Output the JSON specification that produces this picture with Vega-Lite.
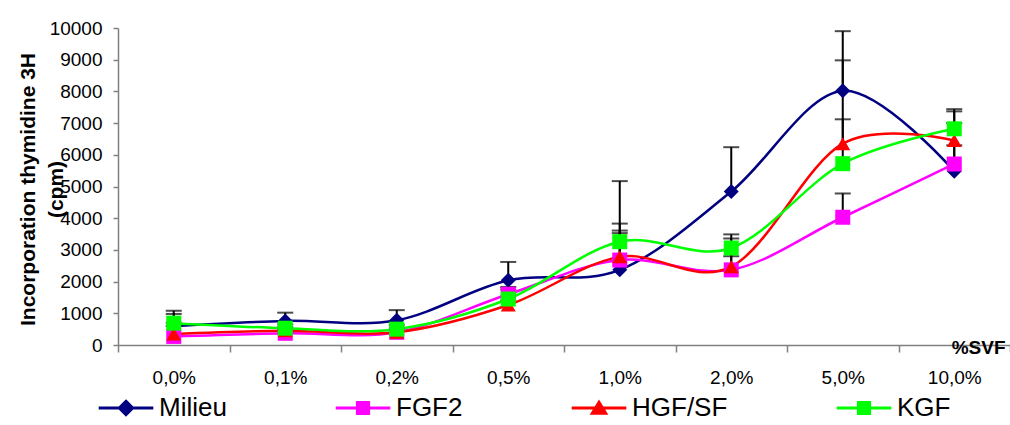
{
  "$schema": "https://vega.github.io/schema/vega-lite/v6.json",
  "width": 892,
  "height": 317,
  "autosize": "none",
  "padding": {"left": 118, "top": 28, "right": 0, "bottom": 80},
  "background": "white",
  "config": {
    "font": "Liberation Sans",
    "view": {"stroke": null},
    "axis": {"grid": false}
  },
  "data": {
    "values": [
      {"series": "Milieu", "svf": "0,0%", "value": 600, "upper": 1080},
      {"series": "Milieu", "svf": "0,1%", "value": 760, "upper": 1020},
      {"series": "Milieu", "svf": "0,2%", "value": 780, "upper": 1100},
      {"series": "Milieu", "svf": "0,5%", "value": 2040, "upper": 2620},
      {"series": "Milieu", "svf": "1,0%", "value": 2370, "upper": 5170},
      {"series": "Milieu", "svf": "2,0%", "value": 4840, "upper": 6240},
      {"series": "Milieu", "svf": "5,0%", "value": 8020, "upper": 9900},
      {"series": "Milieu", "svf": "10,0%", "value": 5480, "upper": 7440},
      {"series": "FGF2", "svf": "0,0%", "value": 270, "upper": 600},
      {"series": "FGF2", "svf": "0,1%", "value": 370, "upper": 500},
      {"series": "FGF2", "svf": "0,2%", "value": 400, "upper": 520},
      {"series": "FGF2", "svf": "0,5%", "value": 1600, "upper": 1830},
      {"series": "FGF2", "svf": "1,0%", "value": 2680, "upper": 3530},
      {"series": "FGF2", "svf": "2,0%", "value": 2370, "upper": 2800},
      {"series": "FGF2", "svf": "5,0%", "value": 4030, "upper": 4780},
      {"series": "FGF2", "svf": "10,0%", "value": 5710, "upper": 6300},
      {"series": "HGF/SF", "svf": "0,0%", "value": 350, "upper": 700},
      {"series": "HGF/SF", "svf": "0,1%", "value": 450, "upper": 560},
      {"series": "HGF/SF", "svf": "0,2%", "value": 400, "upper": 480},
      {"series": "HGF/SF", "svf": "0,5%", "value": 1260, "upper": 1400},
      {"series": "HGF/SF", "svf": "1,0%", "value": 2780, "upper": 3610},
      {"series": "HGF/SF", "svf": "2,0%", "value": 2470, "upper": 3360},
      {"series": "HGF/SF", "svf": "5,0%", "value": 6350, "upper": 8980},
      {"series": "HGF/SF", "svf": "10,0%", "value": 6450, "upper": 7000},
      {"series": "KGF", "svf": "0,0%", "value": 690, "upper": 980},
      {"series": "KGF", "svf": "0,1%", "value": 530, "upper": 650},
      {"series": "KGF", "svf": "0,2%", "value": 500, "upper": 640},
      {"series": "KGF", "svf": "0,5%", "value": 1450, "upper": 1750},
      {"series": "KGF", "svf": "1,0%", "value": 3260, "upper": 3830},
      {"series": "KGF", "svf": "2,0%", "value": 3060, "upper": 3490},
      {"series": "KGF", "svf": "5,0%", "value": 5720, "upper": 7120},
      {"series": "KGF", "svf": "10,0%", "value": 6820, "upper": 7370}
    ]
  },
  "encoding": {
    "x": {
      "field": "svf",
      "type": "ordinal",
      "sort": ["0,0%", "0,1%", "0,2%", "0,5%", "1,0%", "2,0%", "5,0%", "10,0%"],
      "scale": {"type": "band", "paddingInner": 0, "paddingOuter": 0},
      "bandPosition": 0.5,
      "axis": {
        "title": "%SVF",
        "titleFontSize": 19,
        "titleFontWeight": "bold",
        "titleColor": "black",
        "titleAlign": "right",
        "titleBaseline": "alphabetic",
        "titleX": 887,
        "titleY": 8,
        "labelFontSize": 19,
        "labelColor": "black",
        "labelAngle": 0,
        "labelPadding": 16,
        "tickSize": 7,
        "tickBand": "extent",
        "tickColor": "#808080",
        "tickWidth": 1.5,
        "domainColor": "#808080",
        "domainWidth": 1.5
      }
    },
    "y": {
      "field": "value",
      "type": "quantitative",
      "scale": {"domain": [0, 10000], "nice": false},
      "axis": {
        "title": ["Incorporation thymidine 3H", "(cpm)"],
        "values": [0, 1000, 2000, 3000, 4000, 5000, 6000, 7000, 8000, 9000, 10000],
        "format": "d",
        "tickCount": 11,
        "labelOverlap": false,
        "labelSeparation": 0,
        "labelBound": false,
        "labelFontSize": 19,
        "labelColor": "black",
        "labelPadding": 11,
        "tickSize": 5,
        "tickColor": "#808080",
        "tickWidth": 1.5,
        "domainColor": "#808080",
        "domainWidth": 1.5,
        "titleFontSize": 21,
        "titleFontWeight": "bold",
        "titleColor": "black",
        "titleAngle": -90,
        "titleAlign": "center",
        "titleBaseline": "alphabetic",
        "titleX": -84,
        "titleY": 161,
        "titleLineHeight": 28
      }
    }
  },
  "layer": [
    {
      "mark": {"type": "rule", "color": "black", "strokeWidth": 2},
      "encoding": {
        "y2": {"field": "upper"}
      }
    },
    {
      "mark": {"type": "tick", "orient": "horizontal", "color": "black", "size": 16, "thickness": 2},
      "encoding": {
        "y": {"field": "upper", "type": "quantitative"}
      }
    },
    {
      "mark": {"type": "line", "interpolate": "cardinal", "strokeWidth": 2.5},
      "encoding": {
        "color": {
          "field": "series",
          "type": "nominal",
          "scale": {"domain": ["Milieu", "FGF2", "HGF/SF", "KGF"], "range": ["#000080", "#FF00FF", "#FF0000", "#00FF00"]},
          "legend": {
            "title": null,
            "orient": "none",
            "legendX": -5,
            "legendY": 367,
            "direction": "horizontal",
            "columns": 4,
            "columnPadding": 102,
            "padding": 0,
            "symbolSize": 196,
            "symbolStrokeWidth": 3,
            "symbolOpacity": 1,
            "labelOffset": 20,
            "labelFontSize": 26,
            "labelColor": "black"
          }
        }
      }
    },
    {
      "mark": {"type": "point", "filled": true, "opacity": 0, "size": 196},
      "encoding": {
        "color": {"field": "series", "type": "nominal"},
        "shape": {
          "field": "series",
          "type": "nominal",
          "scale": {
            "domain": ["Milieu", "FGF2", "HGF/SF", "KGF"],
            "range": [
              "M-3.9,0H3.9M0,-0.95L0.95,0L0,0.95L-0.95,0Z",
              "M-3.9,0H3.9M-0.8,-0.8H0.8V0.8H-0.8Z",
              "M-3.9,0H3.9M0,-0.8L0.95,0.75H-0.95Z",
              "M-3.9,0H3.9M-0.8,-0.8H0.8V0.8H-0.8Z"
            ]
          }
        }
      }
    },
    {
      "transform": [{"filter": "datum.series === 'Milieu'"}],
      "mark": {"type": "point", "filled": true, "opacity": 1, "size": 225, "strokeWidth": 0, "shape": "diamond"},
      "encoding": {
        "color": {"field": "series", "type": "nominal"}
      }
    },
    {
      "transform": [{"filter": "datum.series !== 'Milieu'"}],
      "mark": {"type": "point", "filled": true, "opacity": 1, "size": 225, "strokeWidth": 0},
      "encoding": {
        "color": {"field": "series", "type": "nominal"},
        "shape": {"condition": {"test": "datum.series === 'HGF/SF'", "value": "triangle-up"}, "value": "square"}
      }
    }
  ]
}
